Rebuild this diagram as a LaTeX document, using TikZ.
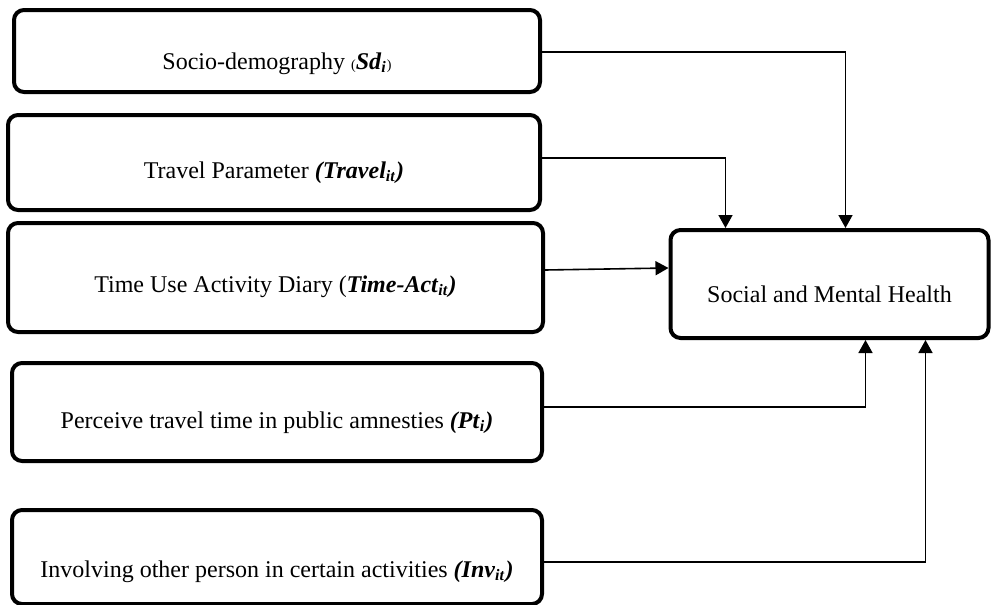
\documentclass[tikz,border=0pt]{standalone}
\usepackage{fontspec}
\setmainfont{Liberation Serif}
\usetikzlibrary{calc,arrows.meta}
\tikzset{
  box/.style={draw, line width=2pt, rounded corners=5pt, inner sep=0pt, text depth=0pt, font=\fontsize{12}{14}\selectfont},
  arr/.style={line width=0.8pt, -{Triangle[length=6.5pt,width=7pt]}},
}
\newcommand{\bi}[1]{\textbf{\textit{#1}}}
\newcommand{\sbi}[1]{\textsubscript{\bi{#1}}}
\begin{document}
\begin{tikzpicture}[x=0.5pt,y=-0.5pt]
\useasboundingbox (0,0) rectangle (991,605);
% input boxes (pixel coordinates)
\node[box, minimum width=263pt, minimum height=41pt, text height=18pt] (sd) at (277,51)
  {Socio-demography {\scriptsize(}\bi{Sd}\sbi{i}{\scriptsize)}};
\node[box, minimum width=266pt, minimum height=47.5pt, text height=15.5pt] (tr) at (274,162.5)
  {Travel Parameter \bi{(Travel}\sbi{it}\bi{)}};
\node[box, minimum width=267.5pt, minimum height=54.5pt, text height=14.5pt] (tm) at (275.5,277.5)
  {Time Use Activity Diary (\bi{Time-Act}\sbi{it}\bi{)}};
\node[box, minimum width=265pt, minimum height=49pt, text height=16pt] (pt) at (277,412)
  {Perceive travel time in public amnesties \bi{(Pt}\sbi{i}\bi{)}};
\node[box, minimum width=265pt, minimum height=47pt, text height=20pt] (inv) at (277,557)
  {Involving other person in certain activities \bi{(Inv}\sbi{it}\bi{)}};
% outcome box
\node[box, minimum width=159pt, minimum height=54pt, text height=18pt] (smh) at (829.5,284)
  {Social and Mental Health};
% connectors
\draw[arr] ($(sd.east)+(0,1)$) -| ($(smh.north west)+(177,0)$);
\draw[arr] ($(tr.east)+(0,-4.5)$) -| ($(smh.north west)+(57,0)$);
\draw[arr] ($(tm.east)+(0,-7.5)$) -- ($(smh.west)+(0,-16)$);
\draw[arr] ($(pt.east)+(0,-5)$) -| ($(smh.south west)+(197,0)$);
\draw[arr] ($(inv.east)+(0,5)$) -| ($(smh.south west)+(257,0)$);
\end{tikzpicture}
\end{document}
